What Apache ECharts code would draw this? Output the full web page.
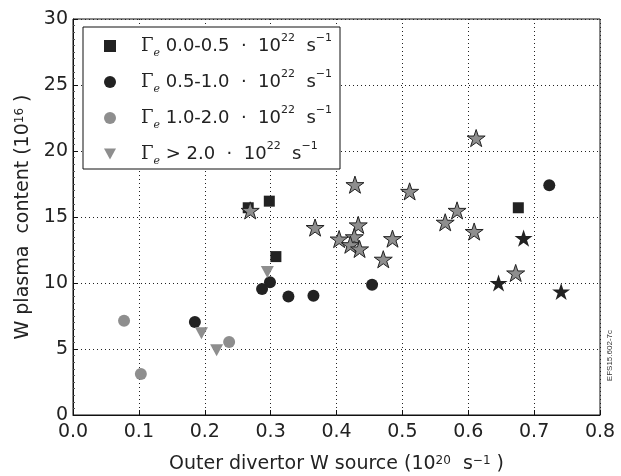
<!DOCTYPE html>
<html>
<head>
<meta charset="utf-8">
<script src="https://cdn.jsdelivr.net/npm/echarts@6/dist/echarts.min.js"></script>
<style>
  html, body { margin: 0; padding: 0; background: #fff; }
  #chart { width: 621px; height: 476px; }
</style>
</head>
<body>
<div id="chart"></div>
<script>
// data: [W source, W content]
var legendNames = ['g00', 'g05', 'g10', 'g20'];
var squares = [[0.266, 15.7], [0.298, 16.2], [0.308, 12.0], [0.676, 15.7]];
var blackDots = [[0.185, 7.05], [0.299, 10.05], [0.287, 9.55], [0.327, 8.98],
  [0.365, 9.04], [0.454, 9.87], [0.723, 17.4]];
var grayDots = [[0.0775, 7.14], [0.103, 3.1], [0.237, 5.53]];
var triangles = [[0.195, 6.2], [0.218, 4.9], [0.295, 10.83]];
var grayStars = [[0.269, 15.5], [0.3675, 14.2], [0.428, 17.45], [0.511, 16.94],
  [0.433, 14.4], [0.404, 13.33], [0.427, 13.5], [0.421, 12.9], [0.435, 12.58],
  [0.485, 13.36], [0.471, 11.8], [0.612, 20.98], [0.583, 15.5], [0.565, 14.6],
  [0.609, 13.9], [0.672, 10.76]];
var darkStars = [[0.684, 13.4], [0.646, 10.0], [0.741, 9.36]];
var legendRanges = ['0.0-0.5', '0.5-1.0', '1.0-2.0', '> 2.0'];

var BLACK = '#222';
var GRAY = '#8e8e8e';
var FONT = 'DejaVu Sans';
var starPath = 'path://M50 0 L61.23 34.55 L97.55 34.55 L68.17 55.9 L79.39 90.45 L50 69.1 L20.61 90.45 L31.83 55.9 L2.45 34.55 L38.77 34.55 Z';
var triPath = 'path://M0 0 L10 0 L5 9 Z';

var chart = echarts.init(document.getElementById('chart'));

var option = {
  backgroundColor: '#fff',
  animation: false,
  textStyle: { fontFamily: FONT },
  grid: {
    left: 73, right: 21, top: 19, bottom: 61,
    outerBoundsMode: 'none',
    show: true, borderColor: '#111', borderWidth: 1
  },
  legend: {
    left: 83, top: 27,
    orient: 'vertical',
    backgroundColor: '#fff',
    borderColor: '#111', borderWidth: 1, borderRadius: 0,
    padding: [6, 8, 2, 21],
    itemGap: 10,
    itemWidth: 12, itemHeight: 12,
    data: [
      { name: legendNames[0], icon: 'rect' },
      { name: legendNames[1], icon: 'circle' },
      { name: legendNames[2], icon: 'circle' },
      { name: legendNames[3], icon: triPath }
    ],
    formatter: function (name) {
      var r = legendRanges[legendNames.indexOf(name)];
      return '{g|Γ}{e|e}{t| ' + r + '  ·  10}{s|22}{t|  s}{s|−1}';
    },
    textStyle: {
      color: BLACK,
      padding: [0, 0, 0, 20],
      rich: {
        g: { fontFamily: 'DejaVu Serif', fontSize: 18, color: BLACK, lineHeight: 26, verticalAlign: 'middle' },
        e: { fontFamily: 'DejaVu Serif', fontStyle: 'italic', fontSize: 11, color: BLACK, lineHeight: 11, verticalAlign: 'bottom' },
        t: { fontFamily: FONT, fontSize: 18, color: BLACK, lineHeight: 26, verticalAlign: 'middle' },
        s: { fontFamily: FONT, fontSize: 11, color: BLACK, lineHeight: 11, verticalAlign: 'top' }
      }
    }
  },
  xAxis: {
    type: 'value', min: 0, max: 0.8, interval: 0.1,
    name: 'Outer divertor W source (10{s|20}  s{s|−1} )',
    nameLocation: 'middle', nameGap: 40,
    nameTextStyle: {
      fontFamily: FONT, fontSize: 19, color: BLACK,
      rich: { s: { fontFamily: FONT, fontSize: 12, color: BLACK, lineHeight: 12, verticalAlign: 'top' } }
    },
    axisLine: { show: true, lineStyle: { color: '#111' } },
    axisTick: { show: true, inside: true, length: 5, lineStyle: { color: '#111' } },
    minorTick: { show: false },
    axisLabel: {
      margin: 8, fontSize: 19, color: BLACK, fontFamily: FONT,
      formatter: function (v) { return v.toFixed(1); }
    },
    splitLine: { show: true, lineStyle: { color: '#222', type: [1, 3], width: 1 } }
  },
  yAxis: {
    type: 'value', min: 0, max: 30, interval: 5,
    name: 'W plasma  content (10{s|16} )',
    nameLocation: 'middle', nameGap: 27,
    nameTextStyle: {
      fontFamily: FONT, fontSize: 19, color: BLACK,
      rich: { s: { fontFamily: FONT, fontSize: 12, color: BLACK, lineHeight: 12, verticalAlign: 'top' } }
    },
    axisLine: { show: true, lineStyle: { color: '#111' } },
    axisTick: { show: true, inside: true, length: 5, lineStyle: { color: '#111' } },
    minorTick: { show: true, splitNumber: 10, length: 2, lineStyle: { color: '#555' } },
    axisLabel: { margin: 5, fontSize: 19, color: BLACK, fontFamily: FONT },
    splitLine: { show: true, lineStyle: { color: '#222', type: [1, 3], width: 1 } }
  },
  graphic: [{
    type: 'text', left: 606, top: 330, rotation: Math.PI / 2,
    style: { text: 'EFS15.602-7c', fontSize: 8, fill: '#333', fontFamily: 'Liberation Sans' }
  }],
  series: [
    {
      name: legendNames[0], type: 'scatter', data: squares,
      symbol: 'rect', symbolSize: 11, itemStyle: { color: BLACK, opacity: 1 }
    },
    {
      name: legendNames[1], type: 'scatter', data: blackDots,
      symbol: 'circle', symbolSize: 12, itemStyle: { color: BLACK, opacity: 1 }
    },
    {
      name: legendNames[2], type: 'scatter', data: grayDots,
      symbol: 'circle', symbolSize: 12, itemStyle: { color: GRAY, opacity: 1 }
    },
    {
      name: legendNames[3], type: 'scatter', data: triangles,
      symbol: triPath, symbolSize: [13, 12], itemStyle: { color: GRAY, opacity: 1 }
    },
    {
      name: 'grayStars', type: 'scatter', data: grayStars,
      symbol: starPath, symbolSize: 18, symbolKeepAspect: true,
      itemStyle: { color: GRAY, borderColor: BLACK, borderWidth: 1, opacity: 1 }
    },
    {
      name: 'darkStars', type: 'scatter', data: darkStars,
      symbol: starPath, symbolSize: 18, symbolKeepAspect: true,
      itemStyle: { color: BLACK, opacity: 1 }
    }
  ]
};

chart.setOption(option);
</script>
</body>
</html>
